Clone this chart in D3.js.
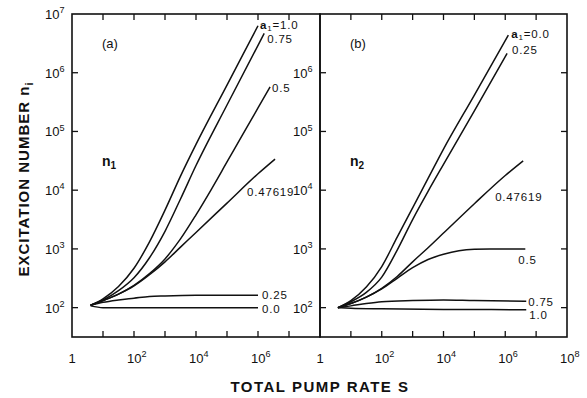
<!DOCTYPE html>
<html>
<head>
<meta charset="utf-8">
<script src="https://cdn.jsdelivr.net/npm/d3@7"></script>
<style>
  body { margin: 0; background: #fff; }
  text { font-family: "Liberation Sans", "DejaVu Sans", sans-serif; fill: #111; }
</style>
</head>
<body>
<svg id="chart" width="587" height="398"></svg>
<script>
// all values are log10
const decadesX = [0, 1, 2, 3, 4, 5, 6, 7, 8];
const decadesY = [2, 3, 4, 5, 6, 7];
const tickLabelsXA = [0, 2, 4, 6];
const tickLabelsXB = [0, 2, 4, 6, 8];
const tickLabelsYA = [2, 3, 4, 5, 6, 7];
const tickLabelsYB = [2, 3, 4, 5, 6];

// panel (a): n1 for different a1
const seriesA = ["1.0", "0.75", "0.5", "0.47619", "0.25", "0.0"];
const logS_A = [
  [0.6, 1, 1.5, 2, 2.5, 3, 3.5, 4, 5, 6.0],
  [0.6, 1, 1.5, 2, 2.5, 3, 3.5, 4, 5, 6.2],
  [0.6, 1, 1.5, 2, 2.5, 3, 3.5, 4, 4.5, 5, 5.5, 6, 6.39],
  [0.6, 1, 1.5, 2, 2.5, 3, 3.5, 4, 5, 6, 6.55],
  [0.6, 1, 1.5, 2, 2.5, 3, 4, 5, 6.0],
  [0.6, 1, 2, 3, 4, 5, 6.0]
];
const logN_A = [
  [2.04, 2.15, 2.36, 2.67, 3.12, 3.66, 4.24, 4.78, 5.79, 6.8],
  [2.04, 2.13, 2.29, 2.51, 2.85, 3.3, 3.85, 4.42, 5.45, 6.67],
  [2.04, 2.12, 2.23, 2.38, 2.58, 2.83, 3.17, 3.58, 4.02, 4.48, 4.94, 5.4, 5.76],
  [2.04, 2.12, 2.23, 2.37, 2.56, 2.78, 3.03, 3.28, 3.78, 4.28, 4.53],
  [2.04, 2.09, 2.13, 2.16, 2.19, 2.2, 2.21, 2.21, 2.21],
  [2.03, 2.0, 2.0, 2.0, 2.0, 2.0, 2.0]
];

// panel (b): n2 for different a1
const seriesB = ["0.0", "0.25", "0.47619", "0.5", "0.75", "1.0"];
const logS_B = [
  [0.58, 1, 1.5, 2, 2.5, 3, 3.5, 4, 5, 6.1],
  [0.58, 1, 1.5, 2, 2.5, 3, 3.5, 4, 5, 6.06],
  [0.58, 1, 1.5, 2, 2.5, 3, 3.5, 4, 5, 6, 6.58],
  [0.58, 1, 1.5, 2, 2.5, 3, 3.5, 4, 4.5, 5, 5.5, 6.65],
  [0.58, 1, 1.5, 2, 3, 4, 5, 6.68],
  [0.58, 1, 2, 4, 6.68]
];
const logN_B = [
  [2.0, 2.12, 2.35, 2.7, 3.2, 3.7, 4.2, 4.7, 5.62, 6.64],
  [2.0, 2.1, 2.26, 2.52, 2.98, 3.5, 3.98, 4.44, 5.35, 6.33],
  [2.0, 2.07, 2.18, 2.33, 2.53, 2.78, 3.02, 3.27, 3.77, 4.25, 4.5],
  [2.0, 2.07, 2.18, 2.32, 2.5, 2.68, 2.82, 2.91, 2.97, 2.995, 3.0, 3.0],
  [2.0, 2.03, 2.07, 2.1, 2.12, 2.13, 2.12, 2.11],
  [2.0, 1.99, 1.98, 1.97, 1.965]
];

const svg = d3.select("#chart");
const plotTop = 14, plotBottom = 337;
const y = d3.scaleLinear().domain([1.5, 7]).range([plotBottom, plotTop]);

const panels = [
  { id: "a", x0: 72, x1: 320, names: seriesA, sx: logS_A, ny: logN_A, tag: "(a)", n: "1",
    xLabels: tickLabelsXA, yLabels: tickLabelsYA,
    offsets: [[2, 3], [3, 10], [2, 5], [-28, 37], [4, 4], [4, 5]] },
  { id: "b", x0: 320, x1: 567, names: seriesB, sx: logS_B, ny: logN_B, tag: "(b)", n: "2",
    xLabels: tickLabelsXB, yLabels: tickLabelsYB,
    offsets: [[3, 3], [5, 1], [-28, 40], [-7, 15], [2, 5], [3, 9]] }
];

function power(g, exp, anchorX, baseY, size) {
  const t = g.append("text").attr("x", anchorX).attr("y", baseY)
    .style("font-size", size + "px");
  t.append("tspan").text("10");
  t.append("tspan").attr("dy", -size * 0.45).style("font-size", (size * 0.7) + "px").text(exp);
  return t;
}

panels.forEach((p, pi) => {
  const x = d3.scaleLinear().domain([0, 8]).range([p.x0, p.x1]);
  const g = svg.append("g").attr("class", "panel-" + p.id);

  // frame
  g.append("rect")
    .attr("x", p.x0).attr("y", plotTop)
    .attr("width", p.x1 - p.x0).attr("height", plotBottom - plotTop)
    .attr("fill", "none").attr("stroke", "#111").attr("stroke-width", 1.6);

  // ticks top & bottom
  g.append("g").selectAll("line").data(decadesX.slice(1, -1)).enter().append("line")
    .attr("x1", (d) => x(d)).attr("x2", (d) => x(d))
    .attr("y1", plotTop).attr("y2", plotTop + 6)
    .attr("stroke", "#111").attr("stroke-width", 1.3);
  g.append("g").selectAll("line").data(decadesX.slice(1, -1)).enter().append("line")
    .attr("x1", (d) => x(d)).attr("x2", (d) => x(d))
    .attr("y1", plotBottom).attr("y2", plotBottom - 6)
    .attr("stroke", "#111").attr("stroke-width", 1.3);

  // y ticks (inside)
  const ytk = decadesY.slice(0, -1);
  g.append("g").selectAll("line").data(ytk).enter().append("line")
    .attr("x1", p.x0).attr("x2", p.x0 + 6)
    .attr("y1", (d) => y(d)).attr("y2", (d) => y(d))
    .attr("stroke", "#111").attr("stroke-width", 1.3);
  if (pi === 1) {
    g.append("g").selectAll("line").data(ytk).enter().append("line")
      .attr("x1", p.x1).attr("x2", p.x1 - 6)
      .attr("y1", (d) => y(d)).attr("y2", (d) => y(d))
      .attr("stroke", "#111").attr("stroke-width", 1.3);
  }

  // y tick labels
  p.yLabels.forEach((e) => {
    power(g, e, p.x0 - 27, y(e) + 5, 13);
  });

  // x tick labels
  p.xLabels.forEach((e) => {
    if (e === 0) {
      g.append("text").attr("x", x(e)).attr("y", 363).attr("text-anchor", "middle")
        .style("font-size", "13px").text("1");
    } else {
      power(g, e, x(e) - 7, 363, 13);
    }
  });

  // curves
  const line = d3.line()
    .x((d) => x(d[0]))
    .y((d) => y(d[1]))
    .curve(d3.curveMonotoneX);

  p.names.forEach((name, i) => {
    const pts = p.sx[i].map((s, k) => [s, p.ny[i][k]]);
    g.append("path")
      .datum(pts)
      .attr("d", line)
      .attr("fill", "none")
      .attr("stroke", "#111")
      .attr("stroke-width", 1.5);

    const last = pts[pts.length - 1];
    const [dx, dy] = p.offsets[i];
    const t = g.append("text")
      .attr("x", x(last[0]) + dx)
      .attr("y", y(last[1]) + dy)
      .style("font-size", "11.5px")
      .style("letter-spacing", "0.8px");
    if (i === 0) {
      t.append("tspan").style("font-weight", "bold").text("a");
      t.append("tspan").attr("dy", 2).style("font-size", "8px").text("1");
      t.append("tspan").attr("dy", -2).text("=" + name);
    } else {
      t.text(name);
    }
  });

  // panel tag and variable
  g.append("text").attr("x", x(0) + 30).attr("y", 48)
    .style("font-size", "13px").text(p.tag);
  const nv = g.append("text").attr("x", x(0) + 30).attr("y", 166)
    .style("font-size", "14px").style("font-weight", "bold");
  nv.append("tspan").text("n");
  nv.append("tspan").attr("dy", 3).style("font-size", "10px").text(p.n);
});

// axis titles
svg.append("text")
  .attr("x", 320).attr("y", 392)
  .attr("text-anchor", "middle")
  .style("font-size", "15px").style("font-weight", "bold").style("letter-spacing", "1.5px")
  .text("TOTAL PUMP RATE  S");

const yTitle = svg.append("text")
  .attr("transform", "translate(29,179) rotate(-90)")
  .attr("text-anchor", "middle")
  .style("font-size", "15px").style("font-weight", "bold").style("letter-spacing", "1px");
yTitle.append("tspan").text("EXCITATION NUMBER n");
yTitle.append("tspan").attr("dy", 4).style("font-size", "11px").text("i");
</script>
</body>
</html>
